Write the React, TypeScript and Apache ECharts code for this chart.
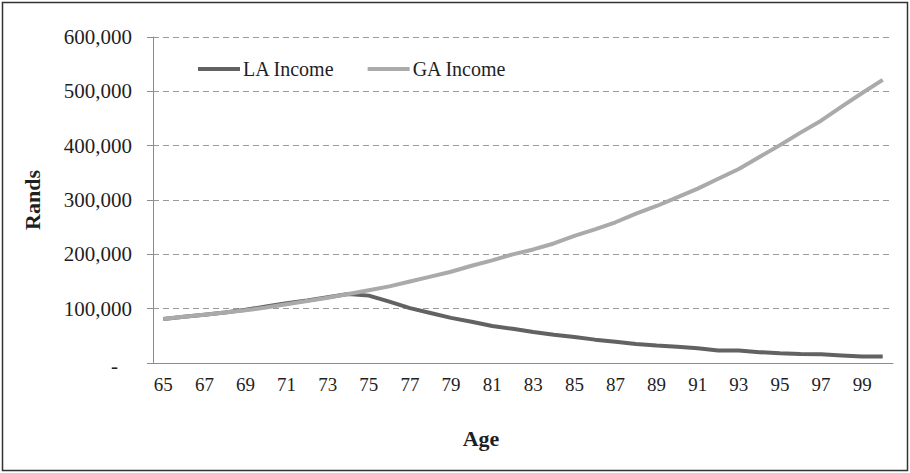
import React, { useEffect, useRef } from "react";
import * as echarts from "echarts";

const ages: string[] = [];
for (let a = 65; a <= 100; a++) ages.push(String(a));

const laIncome = [
  81000, 85000, 89000, 93000, 98000, 104000, 110000, 115000, 121000, 127000,
  124000, 113000, 101000, 92000, 83000, 76000, 68000, 63000, 57000, 52000,
  48000, 43000, 39000, 35000, 32000, 30000, 27000, 23000, 23000, 20000,
  18000, 16500, 16000, 14000, 12000, 12000,
];

const gaIncome = [
  81000, 85000, 89000, 93000, 97000, 102000, 108000, 114000, 120000, 127000,
  134000, 141000, 150000, 159000, 168000, 179000, 189000, 200000, 209000, 220000,
  234000, 246000, 259000, 275000, 289000, 305000, 321000, 339000, 357000, 379000,
  401000, 424000, 446000, 472000, 497000, 521000,
];

const seriesNames = ["LA Income", "GA Income"];
const FONT = "Liberation Serif";
const TEXT = "#1f1f1f";

export default function App() {
  const ref = useRef<HTMLDivElement>(null);
  useEffect(() => {
    document.body.style.margin = "0";
    if (!ref.current) return;
    const chart = echarts.init(ref.current, null, { renderer: "svg" });
    chart.setOption({
      animation: false,
      backgroundColor: "#ffffff",
      textStyle: { fontFamily: FONT, color: TEXT },
      grid: { left: 153, right: 17, top: 37, bottom: 110 },
      legend: {
        data: seriesNames,
        left: 193,
        top: 54,
        icon: "rect",
        itemWidth: 42,
        itemHeight: 4,
        itemGap: 33,
        textStyle: { fontFamily: FONT, fontSize: 20, color: TEXT, padding: [0, 0, 0, -2] },
      },
      xAxis: {
        type: "category",
        data: ages,
        boundaryGap: true,
        name: "Age",
        nameLocation: "middle",
        nameGap: 64,
        nameTextStyle: {
          fontFamily: FONT,
          fontSize: 22,
          fontWeight: "bold",
          color: TEXT,
          padding: [0, 84, 0, 0],
        },
        axisLine: { lineStyle: { color: "#8c8c8c", width: 1 } },
        axisTick: { interval: 0, length: 5, lineStyle: { color: "#8c8c8c" } },
        axisLabel: { interval: 1, margin: 12, fontFamily: FONT, fontSize: 19, color: TEXT },
        splitLine: { show: false },
      },
      yAxis: {
        type: "value",
        min: 0,
        max: 600000,
        interval: 100000,
        name: "Rands",
        nameLocation: "middle",
        nameGap: 110,
        nameTextStyle: { fontFamily: FONT, fontSize: 22, fontWeight: "bold", color: TEXT },
        axisLine: { show: true, lineStyle: { color: "#8c8c8c", width: 1 } },
        axisTick: { show: true, length: 6, lineStyle: { color: "#8c8c8c" } },
        axisLabel: {
          margin: 21,
          fontFamily: FONT,
          fontSize: 21,
          color: TEXT,
          formatter: (v: number) =>
            v === 0 ? "{d|-}" : v.toLocaleString("en-US"),
          rich: {
            d: { fontFamily: FONT, fontSize: 21, color: TEXT, padding: [6, 14, 0, 0] },
          },
        },
        splitLine: { lineStyle: { color: "#9a9a9a", type: [6, 4], width: 1 } },
      },
      series: [
        {
          name: seriesNames[0],
          type: "line",
          data: laIncome,
          showSymbol: false,
          symbol: "none",
          lineStyle: { color: "#626262", width: 4 },
          itemStyle: { color: "#626262" },
        },
        {
          name: seriesNames[1],
          type: "line",
          data: gaIncome,
          showSymbol: false,
          symbol: "none",
          lineStyle: { color: "#aaaaaa", width: 4 },
          itemStyle: { color: "#aaaaaa" },
        },
      ],
      graphic: [
        {
          type: "rect",
          shape: { x: 2.5, y: 2.5, width: 905, height: 468 },
          style: { fill: "none", stroke: "#333333", lineWidth: 1.5 },
          silent: true,
        },
      ],
    });
    return () => chart.dispose();
  }, []);
  return <div ref={ref} style={{ width: 910, height: 473 }} />;
}
